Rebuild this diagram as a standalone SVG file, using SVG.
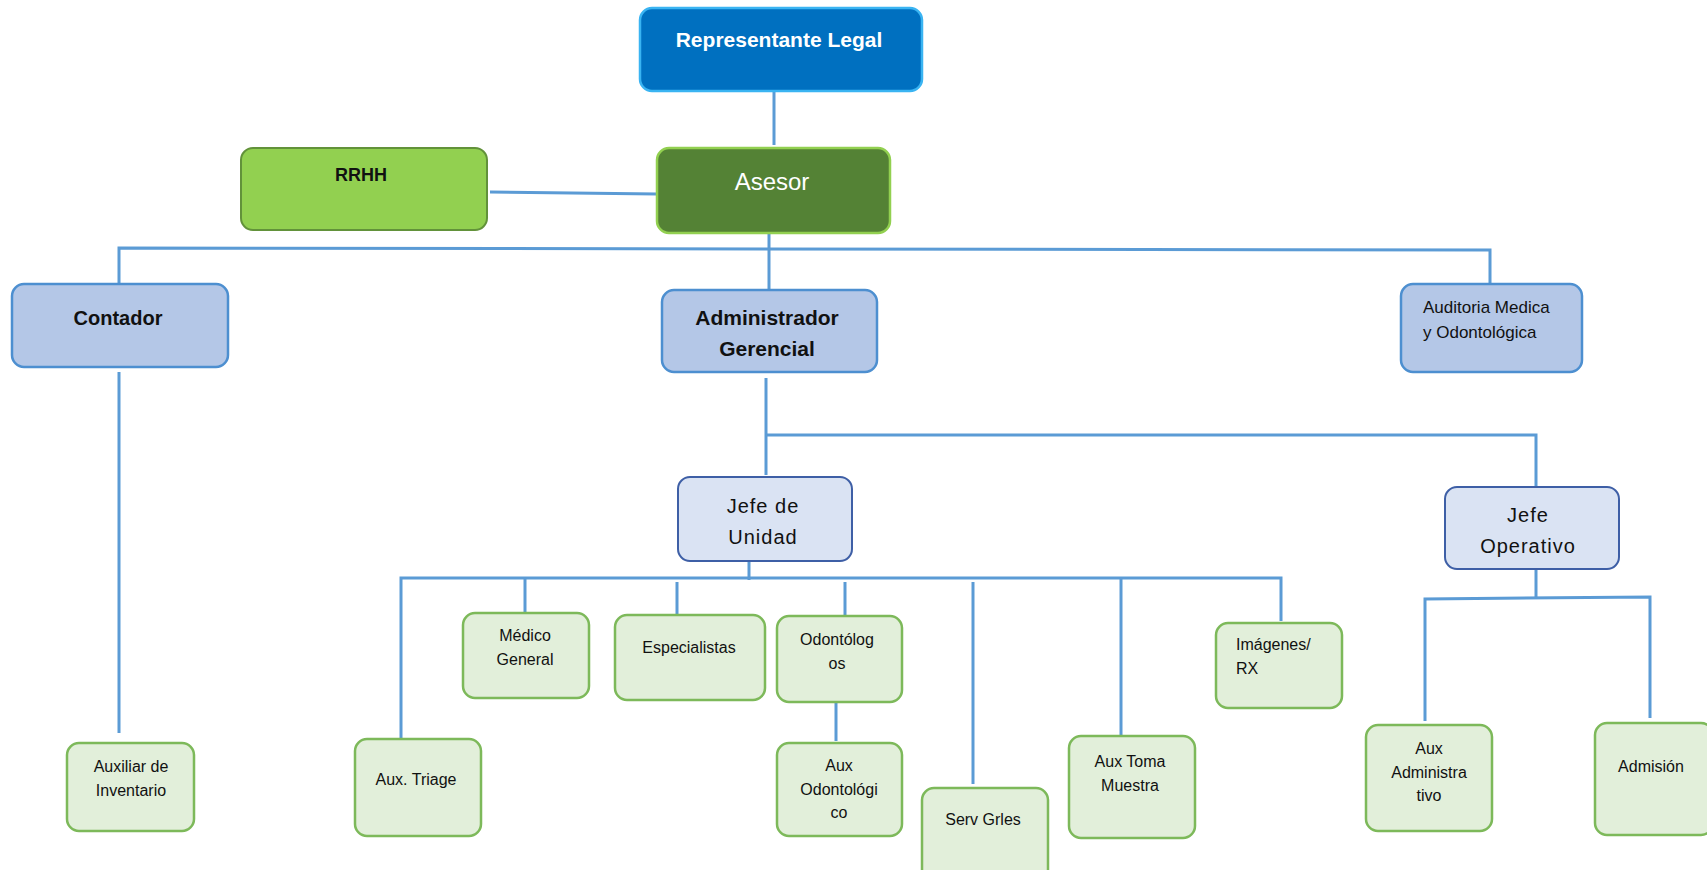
<svg xmlns="http://www.w3.org/2000/svg" width="1707" height="870" viewBox="0 0 1707 870">
<style>
text{font-family:"Liberation Sans",Arial,sans-serif;text-anchor:middle;fill:#111}
.c{fill:none;stroke:#5B9BD5;stroke-width:3}
.lg{fill:#E2EFDA;stroke:#7DB95A;stroke-width:2.5}
.bl{fill:#B4C7E7;stroke:#4D8FD0;stroke-width:2.5}
.jf{fill:#DAE3F3;stroke:#3E5FA6;stroke-width:2}
.s{font-size:16px}
.b{font-weight:bold;font-size:20px}
.j{font-size:20px;letter-spacing:1px}
</style>
<rect width="1707" height="870" fill="#fff"/>
<g id="connectors">
<path class="c" d="M774 91V145"/>
<path class="c" d="M490 192L657 194"/>
<path class="c" d="M769 233V289"/>
<path class="c" d="M119 283V248L1490 250V283"/>
<path class="c" d="M119 372V733"/>
<path class="c" d="M766 378V475"/>
<path class="c" d="M766 435H1536V486"/>
<path class="c" d="M749 561V580"/>
<path class="c" d="M401 743V578H1281V621"/>
<path class="c" d="M525 578V613"/>
<path class="c" d="M677 582V615"/>
<path class="c" d="M845 582V616"/>
<path class="c" d="M836 702V741"/>
<path class="c" d="M973 582V784"/>
<path class="c" d="M1121 578V735"/>
<path class="c" d="M1536 569V597"/>
<path class="c" d="M1425 721V599L1650 597V718"/>
</g>
<g id="rep"><rect x="640" y="8" width="282" height="83" rx="12" fill="#0070C0" stroke="#3AB4F2" stroke-width="2.5"/><text x="779" y="47" style="font-weight:bold;font-size:21px;fill:#fff">Representante Legal</text></g>
<g id="asesor"><rect x="657" y="148" width="233" height="85" rx="12" fill="#548235" stroke="#92D050" stroke-width="2.5"/><text x="772" y="190" style="font-size:24px;fill:#fff">Asesor</text></g>
<g id="rrhh"><rect x="241" y="148" width="246" height="82" rx="12" fill="#92D050" stroke="#62923A" stroke-width="2"/><text x="361" y="181" class="b" style="font-size:18px">RRHH</text></g>
<g id="contador"><rect class="bl" x="12" y="284" width="216" height="83" rx="12"/><text x="118" y="325" class="b">Contador</text></g>
<g id="admin"><rect class="bl" x="662" y="290" width="215" height="82" rx="12"/><text x="767" y="325" class="b" style="font-size:21px">Administrador</text><text x="767" y="356" class="b" style="font-size:21px">Gerencial</text></g>
<g id="auditoria"><rect class="bl" x="1401" y="284" width="181" height="88" rx="12"/><text x="1423" y="313" style="font-size:17px;text-anchor:start">Auditoria Medica</text><text x="1423" y="338" style="font-size:17px;text-anchor:start">y Odontológica</text></g>
<g id="inventario"><rect class="lg" x="67" y="743" width="127" height="88" rx="12"/><text x="131" y="772" class="s">Auxiliar de</text><text x="131" y="796" class="s">Inventario</text></g>
<g id="jefe-unidad"><rect class="jf" x="678" y="477" width="174" height="84" rx="12"/><text x="763" y="513" class="j">Jefe de</text><text x="763" y="544" class="j">Unidad</text></g>
<g id="jefe-operativo"><rect class="jf" x="1445" y="487" width="174" height="82" rx="12"/><text x="1528" y="522" class="j">Jefe</text><text x="1528" y="553" class="j">Operativo</text></g>
<g id="triage"><rect class="lg" x="355" y="739" width="126" height="97" rx="12"/><text x="416" y="785" class="s">Aux. Triage</text></g>
<g id="medico"><rect class="lg" x="463" y="613" width="126" height="85" rx="12"/><text x="525" y="641" class="s">Médico</text><text x="525" y="665" class="s">General</text></g>
<g id="especialistas"><rect class="lg" x="615" y="615" width="150" height="85" rx="12"/><text x="689" y="653" class="s">Especialistas</text></g>
<g id="odontologos"><rect class="lg" x="777" y="616" width="125" height="86" rx="12"/><text x="837" y="645" class="s">Odontólog</text><text x="837" y="669" class="s">os</text></g>
<g id="aux-odonto"><rect class="lg" x="777" y="743" width="125" height="93" rx="12"/><text x="839" y="771" class="s">Aux</text><text x="839" y="795" class="s">Odontológi</text><text x="839" y="818" class="s">co</text></g>
<g id="serv"><rect class="lg" x="922" y="788" width="126" height="96" rx="12"/><text x="983" y="825" class="s">Serv Grles</text></g>
<g id="toma"><rect class="lg" x="1069" y="736" width="126" height="102" rx="12"/><text x="1130" y="767" class="s">Aux Toma</text><text x="1130" y="791" class="s">Muestra</text></g>
<g id="imagenes"><rect class="lg" x="1216" y="623" width="126" height="85" rx="12"/><text x="1236" y="650" class="s" style="text-anchor:start">Imágenes/</text><text x="1236" y="674" class="s" style="text-anchor:start">RX</text></g>
<g id="aux-admin"><rect class="lg" x="1366" y="725" width="126" height="106" rx="12"/><text x="1429" y="754" class="s">Aux</text><text x="1429" y="778" class="s">Administra</text><text x="1429" y="801" class="s">tivo</text></g>
<g id="admision"><rect class="lg" x="1595" y="723" width="118" height="112" rx="12"/><text x="1651" y="772" class="s">Admisión</text></g>
</svg>
